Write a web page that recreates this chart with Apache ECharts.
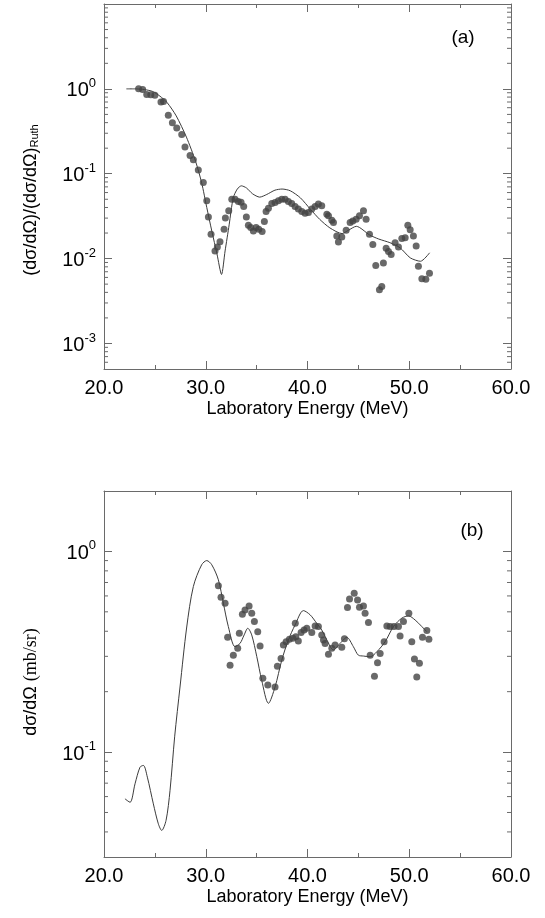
<!DOCTYPE html>
<html><head><meta charset="utf-8">
<script src="https://cdn.jsdelivr.net/npm/echarts@6.0.0/dist/echarts.min.js"></script>
<style>html,body{margin:0;padding:0;background:#fff}#c{width:545px;height:918px}</style>
</head><body><div id="c"></div>
<script>
// ---------- data ----------
const energyTicks = [20, 30, 40, 50, 60];
const rangeA = [0.0005, 10];
const rangeB = [0.03, 2];
const minorMultipliers = [2, 3, 4, 5, 6, 7, 8, 9];
const decadesA = [0.0001, 0.001, 0.01, 0.1, 1];
const decadesB = [0.01, 0.1, 1];

const curveA = [[22.2,1.0],[23.0,1.0],[24.0,0.98],[24.8,0.93],[25.5,0.82],[26.2,0.69],[27.1,0.48],[28.1,0.27],[29.0,0.14],[29.6,0.078],[30.1,0.040],[30.6,0.021],[31.1,0.0114],[31.55,0.0065],[31.9,0.0123],[32.3,0.025],[32.7,0.052],[33.1,0.066],[33.5,0.072],[34.0,0.068],[34.6,0.058],[35.3,0.053],[36.0,0.057],[36.8,0.064],[37.5,0.066],[38.3,0.063],[39.3,0.052],[40.3,0.038],[41.2,0.029],[42.2,0.023],[43.4,0.0197],[44.0,0.0215],[44.8,0.024],[46.1,0.019],[47.0,0.017],[48.1,0.0154],[49.1,0.0134],[50.1,0.0102],[51.1,0.0093],[52.0,0.0117]];

const dataA = [[23.4,1.0],[23.8,0.98],[24.2,0.86],[24.6,0.85],[25.0,0.84],[25.6,0.70],[25.85,0.71],[26.32,0.49],[26.72,0.40],[27.15,0.345],[27.64,0.29],[27.96,0.206],[28.46,0.164],[28.78,0.146],[29.27,0.111],[29.76,0.079],[30.1,0.048],[30.26,0.031],[30.52,0.0194],[30.91,0.0123],[31.14,0.0137],[31.4,0.0158],[31.8,0.0222],[31.93,0.030],[32.26,0.0366],[32.56,0.050],[32.88,0.050],[33.2,0.047],[33.47,0.046],[33.73,0.041],[33.99,0.031],[34.19,0.0247],[34.42,0.0232],[34.68,0.0212],[34.95,0.0232],[35.21,0.0222],[35.54,0.0208],[35.76,0.0273],[35.93,0.0359],[36.16,0.0393],[36.49,0.0447],[36.81,0.0458],[37.14,0.048],[37.47,0.050],[37.8,0.050],[38.12,0.047],[38.45,0.0447],[38.78,0.041],[39.1,0.0383],[39.44,0.0359],[39.76,0.0343],[40.09,0.035],[40.42,0.0383],[40.75,0.041],[41.07,0.0439],[41.4,0.042],[41.9,0.0334],[42.06,0.0319],[42.39,0.0283],[42.55,0.0266],[42.88,0.0185],[43.04,0.0157],[43.37,0.018],[43.8,0.0216],[44.19,0.0266],[44.45,0.0278],[44.78,0.0291],[45.11,0.0319],[45.5,0.0365],[45.76,0.0291],[46.09,0.0194],[46.42,0.0147],[46.71,0.0083],[47.07,0.0043],[47.3,0.0047],[47.46,0.0089],[47.73,0.0132],[47.96,0.0121],[48.22,0.0112],[48.61,0.0154],[48.94,0.0137],[49.27,0.0173],[49.6,0.0176],[49.86,0.0247],[50.09,0.0218],[50.41,0.0185],[50.68,0.0141],[50.9,0.0081],[51.24,0.0058],[51.63,0.0057],[51.99,0.0067]];

const curveB = [[22.06,0.0585],[22.56,0.0562],[23.05,0.0695],[23.54,0.0841],[23.87,0.0858],[24.26,0.075],[24.85,0.0552],[25.34,0.0439],[25.67,0.0407],[26.1,0.0457],[26.49,0.0645],[26.95,0.12],[27.47,0.211],[28.13,0.42],[28.78,0.668],[29.6,0.858],[30.1,0.90],[30.59,0.858],[31.24,0.722],[31.73,0.552],[32.22,0.422],[32.88,0.335],[33.37,0.348],[33.77,0.383],[34.13,0.414],[34.52,0.383],[35.01,0.30],[35.5,0.228],[36.16,0.175],[36.81,0.211],[37.47,0.287],[38.12,0.362],[38.78,0.43],[39.6,0.507],[40.26,0.483],[40.91,0.438],[41.4,0.406],[41.9,0.362],[42.55,0.323],[43.2,0.348],[43.86,0.373],[44.51,0.335],[45.0,0.304],[45.5,0.301],[46.16,0.2985],[46.81,0.316],[47.63,0.355],[48.45,0.422],[49.27,0.465],[49.93,0.477],[50.58,0.455],[51.24,0.422],[51.73,0.398]];

const dataB = [[31.24,0.674],[31.5,0.591],[31.9,0.552],[32.15,0.373],[32.39,0.271],[32.71,0.304],[33.14,0.329],[33.3,0.391],[33.6,0.486],[33.86,0.511],[34.26,0.535],[34.52,0.492],[34.78,0.447],[35.11,0.398],[35.34,0.338],[35.61,0.233],[36.1,0.216],[36.81,0.211],[37.04,0.268],[37.4,0.293],[37.63,0.342],[37.9,0.355],[38.22,0.365],[38.56,0.369],[38.8,0.438],[38.85,0.376],[39.1,0.358],[39.37,0.394],[39.66,0.406],[39.93,0.414],[40.42,0.394],[40.75,0.425],[41.07,0.422],[41.4,0.383],[41.57,0.362],[41.73,0.348],[42.06,0.307],[42.39,0.329],[42.71,0.342],[43.37,0.333],[43.63,0.367],[43.93,0.525],[44.13,0.58],[44.59,0.619],[44.92,0.573],[45.11,0.527],[45.5,0.535],[45.66,0.492],[45.99,0.442],[46.16,0.304],[46.58,0.239],[46.88,0.279],[47.14,0.31],[47.53,0.355],[47.8,0.425],[48.12,0.422],[48.5,0.422],[48.94,0.422],[49.1,0.379],[49.43,0.447],[49.96,0.492],[50.25,0.355],[50.51,0.291],[50.74,0.237],[51.0,0.277],[51.3,0.373],[51.73,0.403],[51.93,0.365]];

// ---------- chart ----------
const FONT = '"Liberation Sans", Arial, Helvetica, sans-serif';
const AX = '#6a6a6a';
const chart = echarts.init(document.getElementById('c'), null, {renderer: 'canvas'});

function minorValues(decades, range) {
  const out = [];
  decades.forEach(d => minorMultipliers.forEach(m => {
    const v = d * m;
    if (v > range[0] * 1.0001 && v < range[1] * 0.9999) out.push([energyTicks[0], v]);
  }));
  return out;
}

function xAxesFor(gi) {
  const base = {
    type: 'value', gridIndex: gi, min: energyTicks[0], max: energyTicks[energyTicks.length - 1], interval: 10,
    axisLine: {show: true, lineStyle: {color: AX, width: 1}},
    axisTick: {show: true, inside: true, length: 8, lineStyle: {color: AX, width: 1}},
    minorTick: {show: true, splitNumber: 2, length: 4, lineStyle: {color: AX, width: 1}},
    splitLine: {show: false}
  };
  return [
    Object.assign({}, base, {
      position: 'bottom',
      axisLabel: {formatter: v => v.toFixed(1), fontSize: 20, color: '#000', fontFamily: FONT, margin: 9},
      name: 'Laboratory Energy (MeV)', nameLocation: 'middle', nameGap: 31,
      nameTextStyle: {fontSize: 18, color: '#000', fontFamily: FONT}
    }),
    Object.assign({}, base, {position: 'top', axisLabel: {show: false}})
  ];
}

function powLabel(v) {
  const e = Math.round(Math.log10(v));
  if (Math.abs(Math.log10(v) - e) > 1e-6 || e > 0) return '';
  return '{b|10}{s|' + (e === 0 ? '0' : '-' + Math.abs(e)) + '}';
}

function yAxesFor(gi, range) {
  const base = {
    type: 'log', logBase: 10, gridIndex: gi, min: range[0], max: range[1],
    axisLine: {show: true, lineStyle: {color: AX, width: 1}},
    axisTick: {show: true, inside: true, length: 8, lineStyle: {color: AX, width: 1}},
    splitLine: {show: false}, minorTick: {show: false}
  };
  return [
    Object.assign({}, base, {
      position: 'left',
      axisLabel: {
        formatter: powLabel, margin: 8, color: '#000', fontFamily: FONT,
        rich: {
          b: {fontSize: 20, fontFamily: FONT, color: '#000', lineHeight: 24, verticalAlign: 'bottom'},
          s: {fontSize: 13, fontFamily: FONT, color: '#000', lineHeight: 13, verticalAlign: 'top'}
        }
      }
    }),
    Object.assign({}, base, {position: 'right', axisLabel: {show: false}})
  ];
}

function minorTickSeries(xi, yi, data) {
  return {
    type: 'custom', xAxisIndex: xi, yAxisIndex: yi, data: data, silent: true, clip: false, z: 1,
    renderItem: function (params, api) {
      const p = api.coord([api.value(0), api.value(1)]);
      const cs = params.coordSys;
      return {type: 'group', children: [
        {type: 'line', shape: {x1: cs.x, y1: p[1], x2: cs.x + 4, y2: p[1]}, style: {stroke: AX, lineWidth: 1}},
        {type: 'line', shape: {x1: cs.x + cs.width, y1: p[1], x2: cs.x + cs.width - 4, y2: p[1]}, style: {stroke: AX, lineWidth: 1}}
      ]};
    }
  };
}

const lineStyle = {color: '#3c3c3c', width: 1};
const dot = {color: '#444'};

chart.setOption({
  animation: false,
  backgroundColor: '#fff',
  grid: [
    {left: 104, top: 4, width: 407, height: 365},
    {left: 104, top: 491, width: 407, height: 366}
  ],
  xAxis: xAxesFor(0).concat(xAxesFor(1)),
  yAxis: yAxesFor(0, rangeA).concat(yAxesFor(1, rangeB)),
  series: [
    minorTickSeries(0, 0, minorValues(decadesA, rangeA)),
    minorTickSeries(2, 2, minorValues(decadesB, rangeB)),
    {type: 'line', xAxisIndex: 0, yAxisIndex: 0, data: curveA, showSymbol: false, smooth: 0.25, lineStyle: lineStyle, z: 3},
    {type: 'scatter', xAxisIndex: 0, yAxisIndex: 0, data: dataA, symbol: 'circle', symbolSize: 7, itemStyle: dot, z: 4},
    {type: 'line', xAxisIndex: 2, yAxisIndex: 2, data: curveB, showSymbol: false, smooth: 0.3, lineStyle: lineStyle, z: 3},
    {type: 'scatter', xAxisIndex: 2, yAxisIndex: 2, data: dataB, symbol: 'circle', symbolSize: 7, itemStyle: dot, z: 4}
  ],
  graphic: [
    {type: 'text', x: 463, y: 38, style: {text: '(a)', fontSize: 19, fontFamily: FONT, fill: '#000', align: 'center', verticalAlign: 'middle'}},
    {type: 'text', x: 472, y: 531, style: {text: '(b)', fontSize: 19, fontFamily: FONT, fill: '#000', align: 'center', verticalAlign: 'middle'}},
    {type: 'text', x: 31, y: 200, rotation: Math.PI / 2,
      style: {text: '(dσ/dΩ)/(dσ/dΩ){sub|Ruth}', fontSize: 18, fontFamily: FONT, fill: '#000', align: 'center', verticalAlign: 'middle',
        rich: {sub: {fontSize: 11, fontFamily: FONT, fill: '#000', verticalAlign: 'bottom', lineHeight: 11, padding: [10, 0, 0, 0]}}}},
    {type: 'text', x: 31, y: 682, rotation: Math.PI / 2,
      style: {text: 'dσ/dΩ {ser|(mb/sr)}', fontSize: 18, fontFamily: FONT, fill: '#000', align: 'center', verticalAlign: 'middle',
        rich: {ser: {fontSize: 18, fontFamily: '"Liberation Serif", "Times New Roman", serif', fill: '#000'}}}}
  ]
});
</script>
</body></html>
